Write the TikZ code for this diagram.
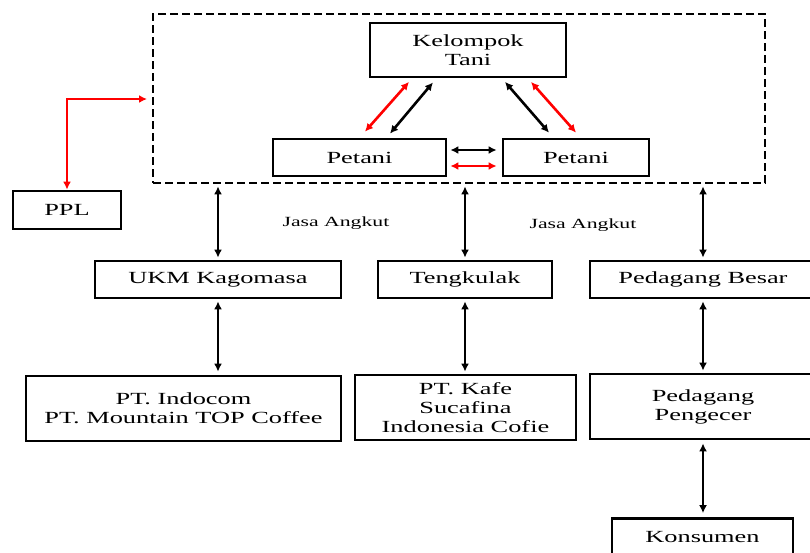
\documentclass[tikz,border=0pt]{standalone}
\usepackage{fontspec}
\setmainfont{Liberation Serif}[FakeStretch=1.55]
\usetikzlibrary{arrows.meta,calc}
\begin{document}
\begin{tikzpicture}[x=1pt,y=-1pt,
  box/.style={draw,line width=2.8pt,inner sep=0pt,align=center,
    font=\fontsize{17}{19}\selectfont},
  conn/.style={line width=2.6pt,{Latex[length=8pt,width=8pt]}-{Latex[length=8pt,width=8pt]}},
  blackconn/.style={conn,draw=black},
  redconn/.style={conn,draw=red},
  lbl/.style={font=\fontsize{14}{16}\selectfont}]
\useasboundingbox (0,0) rectangle (810,552);
\clip (0,0) rectangle (810,552);
\fill[white] (0,0) rectangle (810,552);

% group box
\node[draw,line width=2.8pt,dash pattern=on 8pt off 4pt,minimum width=612pt,minimum height=169pt,inner sep=0pt] (grp) at (459,98.5) {};

\node[box,minimum width=196pt,minimum height=54pt] (kt) at (468,50) {Kelompok\\Tani};
\node[box,minimum width=173pt,minimum height=37pt] (p1) at (359.5,157.5) {Petani};
\node[box,minimum width=146pt,minimum height=37pt] (p2) at (576,157.5) {Petani};
\node[box,minimum width=108pt,minimum height=38pt] (ppl) at (67,210) {PPL};

\node[box,minimum width=246pt,minimum height=37pt] (ukm) at (218,279.5) {UKM Kagomasa};
\node[box,minimum width=174pt,minimum height=37pt] (tk) at (465,279.5) {Tengkulak};
\node[box,minimum width=226pt,minimum height=37pt] (pb) at (703,279.5) {Pedagang Besar};

\node[box,minimum width=315pt,minimum height=65pt] (pti) at (183.5,408.5) {PT. Indocom\\PT. Mountain TOP Coffee};
\node[box,minimum width=221pt,minimum height=65pt] (ptk) at (465.5,407.5) {PT. Kafe\\Sucafina\\Indonesia Cofie};
\node[box,minimum width=226pt,minimum height=65pt] (pp) at (703,406.5) {Pedagang\\Pengecer};
\node[box,minimum width=181pt,minimum height=37pt] (kon) at (702.5,537) {Konsumen};

\node[lbl] (ja1) at (336,223) {Jasa Angkut};
\node[lbl] (ja2) at (583,225) {Jasa Angkut};

% PPL link
\coordinate (pplin) at (147,99);
\draw[redconn] (ppl.north) |- (pplin);

% triangle links
\draw[redconn] ([xshift=5.5pt,yshift=6pt]p1.north) -- ([xshift=-59pt,yshift=-3.5pt]kt.south);
\draw[blackconn] ([xshift=30.5pt,yshift=4pt]p1.north) -- ([xshift=-35pt,yshift=-4pt]kt.south);
\draw[blackconn] ([xshift=37pt,yshift=-3.5pt]kt.south) -- ([xshift=-27pt,yshift=5pt]p2.north);
\draw[redconn] ([xshift=63pt,yshift=-3.5pt]kt.south) -- ([xshift=0pt,yshift=5pt]p2.north);
\draw[blackconn,shorten <=3pt,shorten >=5pt] ([yshift=7.5pt]p1.east) -- ([yshift=7.5pt]p2.west);
\draw[redconn,shorten <=3pt,shorten >=5pt] ([yshift=-8.5pt]p1.east) -- ([yshift=-8.5pt]p2.west);

% verticals
\draw[blackconn,shorten <=2pt,shorten >=2pt] (grp.south -| ukm.north) -- (ukm.north);
\draw[blackconn,shorten <=2pt,shorten >=2pt] (grp.south -| tk.north) -- (tk.north);
\draw[blackconn,shorten <=2pt,shorten >=2pt] (grp.south -| pb.north) -- (pb.north);
\draw[blackconn,shorten <=2pt,shorten >=3pt] (ukm.south) -- (ukm.south |- pti.north);
\draw[blackconn,shorten <=2pt,shorten >=2pt] (tk.south) -- (tk.south |- ptk.north);
\draw[blackconn,shorten <=2pt,shorten >=2pt] (pb.south) -- (pp.north);
\draw[blackconn,shorten <=3pt,shorten >=4pt] (pp.south) -- (pp.south |- kon.north);
\end{tikzpicture}
\end{document}
